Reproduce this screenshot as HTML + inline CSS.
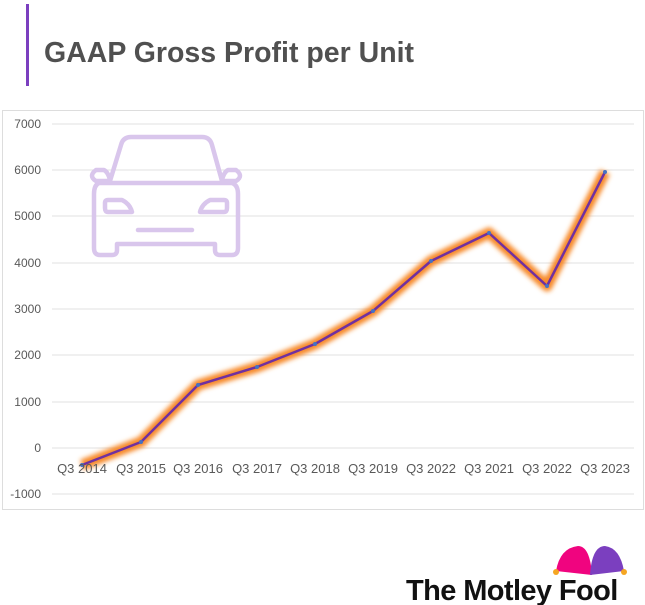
<!DOCTYPE html>
<html><head><style>
body{margin:0;width:645px;height:605px;background:#fff;overflow:hidden;font-family:"Liberation Sans",sans-serif;position:relative}
</style></head><body>
<div style="position:absolute;left:26px;top:4px;width:3px;height:82px;background:#7b3fbf"></div>
<div style="position:absolute;left:44px;top:37px;font-size:28.5px;font-weight:bold;color:#505050">GAAP Gross Profit per Unit</div>
<svg width="645" height="605" style="position:absolute;left:0;top:0">
<defs><filter id="gl" x="-20%" y="-20%" width="140%" height="140%"><feGaussianBlur stdDeviation="2.5"/></filter></defs>
<rect x="2.5" y="110.5" width="641" height="399" fill="none" stroke="#ddd"/>
<g stroke="#e0e0e0" stroke-width="1">
<line x1="52" x2="634" y1="124" y2="124"/><line x1="52" x2="634" y1="170" y2="170"/>
<line x1="52" x2="634" y1="216" y2="216"/><line x1="52" x2="634" y1="263" y2="263"/>
<line x1="52" x2="634" y1="309" y2="309"/><line x1="52" x2="634" y1="355" y2="355"/>
<line x1="52" x2="634" y1="402" y2="402"/><line x1="52" x2="634" y1="448" y2="448"/>
<line x1="52" x2="634" y1="494" y2="494"/>
</g>
<g font-size="12" fill="#595959" text-anchor="end">
<text x="41" y="128">7000</text><text x="41" y="174">6000</text><text x="41" y="220">5000</text>
<text x="41" y="267">4000</text><text x="41" y="313">3000</text><text x="41" y="359">2000</text>
<text x="41" y="406">1000</text><text x="41" y="452">0</text><text x="41" y="498">-1000</text>
</g>
<g fill="none" stroke="#d9c6ec" stroke-width="4.5" stroke-linejoin="round" stroke-linecap="round">
<path d="M110 181 L121 145 Q123 137 131 137 L202 137 Q210 137 212 145 L222 181"/>
<path d="M99 183 Q94 185 94 194 L94 248 Q94 255 100 255 L112 255 Q117 255 117 250 L117 244 L215 244 L215 250 Q215 255 220 255 L232 255 Q238 255 238 248 L238 194 Q238 185 232 183 Z"/>
<path d="M108 181 L96 181 Q88 176 96 170 L104 170 Q108 172 110 180"/>
<path d="M224 181 L236 181 Q244 176 236 170 L228 170 Q224 172 222 180"/>
<path d="M108 200 L122 200 Q130 204 132 212 L108 212 Q105 212 105 208 L105 203 Q105 200 108 200 Z"/>
<path d="M224 200 L210 200 Q202 204 200 212 L224 212 Q227 212 227 208 L227 203 Q227 200 224 200 Z"/>
<line x1="138" y1="230" x2="192" y2="230"/>
</g>
<polyline points="82,465 141,442 198,385 257,367 315,344 373,311 431,261 489,233 547,286 605,172" fill="none" stroke="#f78a2a" stroke-width="11" stroke-linejoin="round" filter="url(#gl)"/>
<polyline points="82,465 141,442 198,385 257,367 315,344 373,311 431,261 489,233 547,286 605,172" fill="none" stroke="#7030a0" stroke-width="2.5" stroke-linejoin="round"/>
<g fill="#4472c4">
<circle cx="82" cy="465" r="2"/><circle cx="141" cy="442" r="2"/><circle cx="198" cy="385" r="2"/><circle cx="257" cy="367" r="2"/><circle cx="315" cy="344" r="2"/><circle cx="373" cy="311" r="2"/><circle cx="431" cy="261" r="2"/><circle cx="489" cy="233" r="2"/><circle cx="547" cy="286" r="2"/><circle cx="605" cy="172" r="2"/>
</g>
<g font-size="13" fill="#595959" text-anchor="middle">
<text x="82" y="473">Q3 2014</text><text x="141" y="473">Q3 2015</text><text x="198" y="473">Q3 2016</text>
<text x="257" y="473">Q3 2017</text><text x="315" y="473">Q3 2018</text><text x="373" y="473">Q3 2019</text>
<text x="431" y="473">Q3 2022</text><text x="489" y="473">Q3 2021</text><text x="547" y="473">Q3 2022</text>
<text x="605" y="473">Q3 2023</text>
</g>
<path d="M556 571 Q560 548 578 546 Q590 546 592 575 Z" fill="#f0047f"/>
<path d="M590 575 Q592 546 605 546 Q620 548 624 571 Z" fill="#7b3fbf"/>
<circle cx="556" cy="572" r="3" fill="#f5a623"/><circle cx="624" cy="572" r="3" fill="#f5a623"/>
<text x="406" y="600" font-size="29" font-weight="bold" fill="#111" letter-spacing="-0.6">The Motley Fool</text>
</svg>
</body></html>
